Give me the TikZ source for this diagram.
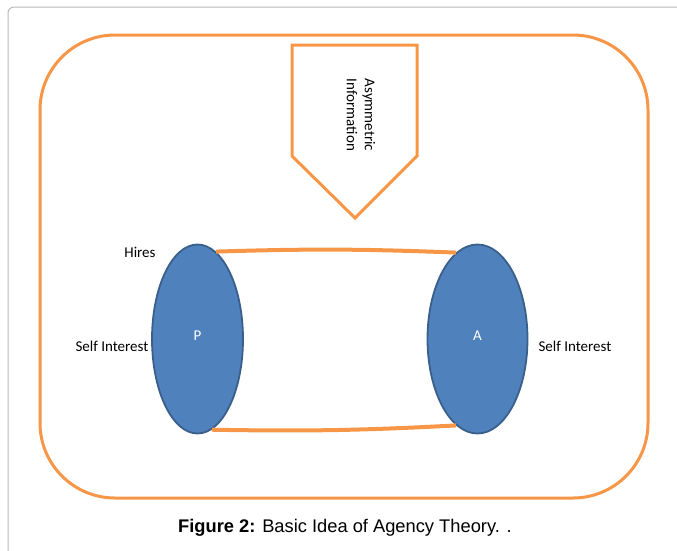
\documentclass[tikz,border=0pt]{standalone}
\usepackage{fontspec}
\setmainfont{Carlito}
\newfontfamily\capfont{Liberation Sans}
\usepackage{tikz}
\usetikzlibrary{shapes.geometric}
\definecolor{agorange}{HTML}{F79646}
\definecolor{agblue}{HTML}{4F81BD}
\definecolor{agedge}{HTML}{3A5F8B}

\begin{document}
\begin{tikzpicture}[x=1pt,y=-1pt,
  party/.style={ellipse,draw=agedge,line width=1.8pt,fill=agblue,inner sep=0pt,
    minimum height=189pt,text=white,font=\fontsize{15}{17}\selectfont},
  lbl/.style={font=\fontsize{15}{18}\selectfont},
  link/.style={draw=agorange,line width=4pt}]
\useasboundingbox (0,0) rectangle (677,550);
\draw[gray!55,line width=1pt,rounded corners=6pt](8,552)--(8,7)--(680,7);
\draw[agorange,line width=3pt,rounded corners=75pt](40,35) rectangle (648,498);
\draw[agorange,line width=3pt](292,45)--(417,45)--(417,156)--(355,218)--(292,156)--cycle;
\node (info) at (361,115)[rotate=-90,align=center,lbl]{Asymmetric\\Information};
% principal and agent
\node (p) at (197.5,339)[party,minimum width=91pt]{\raisebox{7pt}{P}};
\node (a) at (477.5,339)[party,minimum width=100pt]{\raisebox{7pt}{A}};
\draw[link](p.78) to[bend left=2] (a.104);
\draw[link](p.279) to[bend right=2] (a.256);
\node (hires) at (140,252)[lbl]{Hires};
\node (sip) at (112,346)[lbl]{Self Interest};
\node (sia) at (575,346)[lbl]{Self Interest};
\node (cap) at (345,528){\capfont\fontsize{18.3}{21}\selectfont\textbf{Figure 2:} Basic Idea of Agency Theory. .};
\end{tikzpicture}
\end{document}
